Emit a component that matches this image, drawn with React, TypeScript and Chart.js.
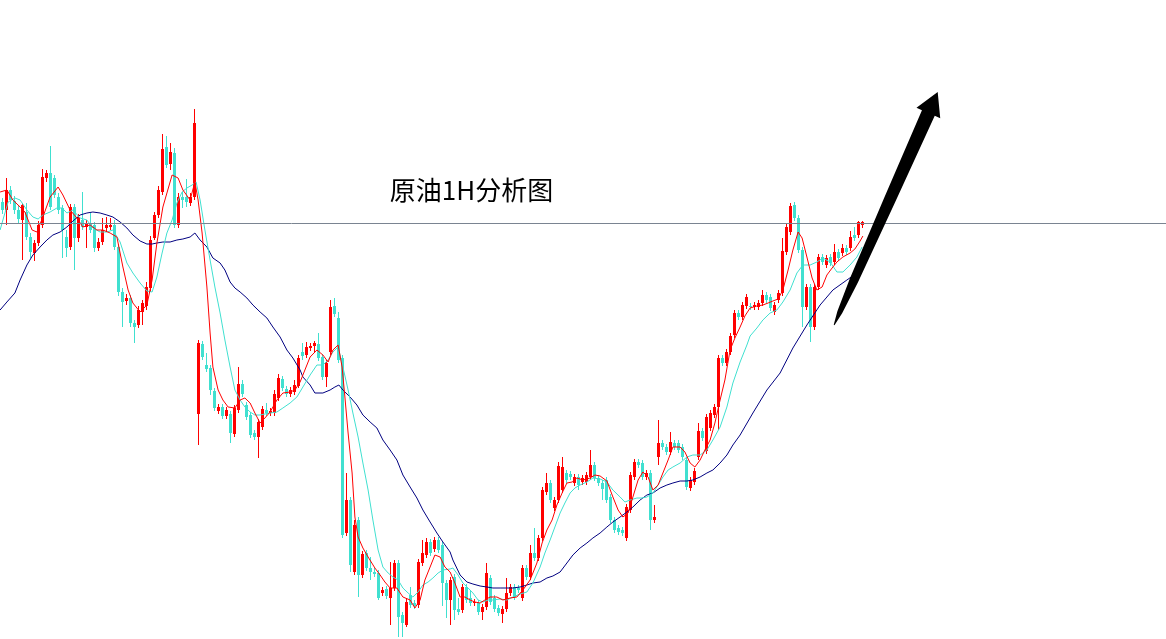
import React, { useEffect, useRef } from "react";
import { Chart, registerables } from "chart.js";

Chart.register(...registerables);

// Hourly crude oil candles (open / high / low / close)
const OPEN = [
  73.98, 73.90, 74.10, 73.99, 73.90, 73.80, 73.88, 73.63, 73.47, 73.57,
  73.75, 74.22, 74.27, 74.22, 74.03, 73.92, 73.63, 73.53, 73.93, 73.62,
  73.80, 73.73, 73.77, 73.75, 73.52, 73.58, 73.72, 73.73, 73.75, 73.53,
  73.08, 72.99, 73.02, 72.77, 72.75, 72.88, 72.94, 73.12, 73.62, 73.85,
  74.08, 74.53, 74.36, 74.47, 73.75, 74.03, 74.03, 73.97, 74.03, 71.86,
  72.56, 72.35, 72.32, 72.09, 71.89, 71.93, 71.84, 71.86, 71.66, 71.90,
  72.16, 71.95, 71.85, 71.67, 71.63, 71.73, 71.90, 71.87, 71.87, 72.02,
  72.21, 72.11, 72.06, 72.08, 72.14, 72.48, 72.45, 72.52, 72.54, 72.56,
  72.43, 72.23, 72.48, 72.94, 72.82, 72.42, 70.67, 71.00, 70.28, 70.80,
  70.25, 70.47, 70.32, 70.28, 70.27, 70.07, 70.11, 70.02, 70.12, 70.37,
  69.85, 69.75, 70.05, 69.97, 69.95, 70.37, 70.45, 70.58, 70.51, 70.60,
  70.55, 70.17, 70.00, 70.23, 69.91, 69.90, 70.13, 70.02, 69.97, 69.97,
  69.88, 69.93, 70.22, 70.02, 69.92, 69.86, 69.91, 70.07, 70.13, 70.12,
  70.02, 70.32, 70.23, 70.47, 70.42, 70.62, 71.08, 71.17, 70.92, 71.00,
  71.10, 71.27, 71.26, 71.17, 71.23, 71.18, 71.18, 71.23, 71.35, 71.22,
  71.17, 71.20, 71.03, 70.80, 70.72, 70.70, 70.62, 70.90, 71.23, 71.38,
  71.37, 71.23, 71.27, 70.80, 71.43, 71.57, 71.53, 71.48, 71.57, 71.57,
  71.53, 71.40, 71.12, 71.18, 71.43, 71.69, 71.49, 71.72, 71.85, 71.93,
  72.42, 72.37, 72.48, 72.65, 72.87, 72.83, 72.94, 72.94, 72.93, 72.93,
  72.97, 73.05, 73.03, 72.88, 73.00, 73.07, 73.48, 73.68, 73.95, 73.82,
  73.50, 72.93, 73.13, 72.73, 73.13, 73.43, 73.35, 73.43, 73.38, 73.48,
  73.47, 73.52, 73.52, 73.65, 73.65, 73.75,
];
const HIGH = [
  74.02, 74.22, 74.14, 74.04, 73.94, 73.97, 73.97, 73.67, 73.60, 73.79,
  74.31, 74.30, 74.54, 74.25, 74.07, 73.95, 73.70, 73.96, 73.96, 73.86,
  74.08, 73.80, 73.87, 73.78, 73.62, 73.82, 73.83, 73.82, 73.80, 73.56,
  73.12, 73.06, 73.05, 72.80, 72.94, 73.00, 73.18, 73.64, 73.88, 74.14,
  74.66, 74.64, 74.57, 74.52, 74.07, 74.08, 74.21, 74.07, 74.91, 72.60,
  72.59, 72.47, 72.35, 72.12, 71.96, 71.96, 71.93, 71.89, 71.95, 72.33,
  72.20, 71.98, 71.88, 71.70, 71.81, 71.94, 71.97, 71.92, 72.10, 72.26,
  72.24, 72.14, 72.13, 72.20, 72.45, 72.57, 72.58, 72.57, 72.59, 72.67,
  72.46, 72.40, 73.00, 73.02, 72.88, 72.45, 71.27, 71.03, 70.80, 70.83,
  70.49, 70.50, 70.43, 70.32, 70.30, 70.13, 70.14, 70.38, 70.40, 70.40,
  69.88, 70.01, 70.13, 70.00, 70.41, 70.60, 70.62, 70.61, 70.63, 70.63,
  70.58, 70.20, 70.23, 70.26, 70.02, 70.16, 70.16, 70.10, 70.01, 70.00,
  69.96, 70.37, 70.25, 70.05, 69.95, 69.94, 70.22, 70.16, 70.16, 70.15,
  70.35, 70.35, 70.55, 70.72, 70.65, 71.13, 71.27, 71.20, 71.03, 71.38,
  71.43, 71.30, 71.29, 71.26, 71.26, 71.25, 71.28, 71.50, 71.38, 71.25,
  71.20, 71.23, 71.06, 70.83, 70.75, 70.73, 70.96, 71.28, 71.41, 71.41,
  71.40, 71.30, 71.30, 70.95, 71.80, 71.60, 71.56, 71.68, 71.60, 71.60,
  71.56, 71.43, 71.23, 71.32, 71.77, 71.72, 71.86, 71.90, 71.96, 72.45,
  72.45, 72.51, 72.67, 72.90, 72.90, 72.98, 73.06, 72.97, 72.98, 73.00,
  73.10, 73.08, 73.06, 72.98, 73.10, 73.62, 73.76, 73.97, 73.98, 73.85,
  73.53, 73.16, 73.16, 73.16, 73.46, 73.46, 73.45, 73.46, 73.56, 73.51,
  73.56, 73.55, 73.69, 73.73, 73.79, 73.79,
];
const LOW = [
  73.86, 73.75, 73.96, 73.86, 73.77, 73.40, 73.60, 73.42, 73.39, 73.54,
  73.72, 74.18, 73.90, 74.02, 73.86, 73.42, 73.43, 73.50, 73.30, 73.58,
  73.70, 73.52, 73.67, 73.48, 73.49, 73.55, 73.69, 73.70, 73.50, 73.04,
  72.73, 72.95, 72.73, 72.57, 72.72, 72.75, 72.90, 73.08, 73.60, 73.82,
  74.05, 74.32, 74.30, 73.72, 73.72, 73.92, 73.93, 73.94, 74.00, 71.55,
  72.40, 72.28, 72.05, 71.89, 71.86, 71.81, 71.81, 71.57, 71.63, 71.87,
  72.03, 71.80, 71.62, 71.60, 71.42, 71.70, 71.84, 71.84, 71.84, 71.99,
  72.09, 72.03, 72.03, 72.05, 72.12, 72.40, 72.42, 72.49, 72.47, 72.39,
  72.20, 72.13, 72.45, 72.83, 72.37, 70.62, 70.64, 70.28, 70.25, 70.03,
  70.22, 70.29, 70.20, 70.23, 70.00, 70.04, 70.01, 69.75, 70.09, 69.63,
  69.63, 69.73, 69.92, 69.91, 69.92, 70.34, 70.42, 70.44, 70.48, 70.47,
  69.94, 69.82, 69.75, 69.80, 69.85, 69.87, 69.97, 69.94, 69.94, 69.85,
  69.80, 69.90, 69.95, 69.88, 69.84, 69.77, 69.88, 70.04, 70.00, 70.07,
  69.99, 70.20, 70.20, 70.39, 70.39, 70.59, 71.05, 70.97, 70.89, 70.97,
  71.07, 71.17, 71.20, 71.14, 71.10, 71.15, 71.15, 71.20, 71.19, 71.14,
  71.00, 70.97, 70.77, 70.67, 70.65, 70.64, 70.59, 70.87, 71.20, 71.32,
  71.20, 71.20, 70.70, 70.77, 71.35, 71.50, 71.45, 71.45, 71.50, 71.47,
  71.40, 71.10, 71.09, 71.15, 71.40, 71.59, 71.46, 71.69, 71.82, 71.70,
  72.34, 72.34, 72.45, 72.62, 72.80, 72.80, 72.91, 72.90, 72.90, 72.90,
  72.94, 72.97, 72.89, 72.85, 72.97, 73.04, 73.45, 73.65, 73.79, 73.47,
  72.73, 72.90, 72.58, 72.70, 73.10, 73.35, 73.32, 73.34, 73.35, 73.39,
  73.44, 73.45, 73.49, 73.59, 73.62, 73.72,
];
const CLOSE = [
  73.90, 74.10, 74.00, 73.90, 73.81, 73.95, 73.63, 73.48, 73.57, 73.75,
  74.23, 74.27, 73.93, 74.05, 73.90, 73.70, 73.52, 73.93, 73.62, 73.83,
  73.73, 73.77, 73.70, 73.52, 73.58, 73.70, 73.75, 73.75, 73.53, 73.08,
  72.98, 73.02, 72.77, 72.73, 72.90, 72.97, 73.13, 73.60, 73.85, 74.10,
  74.51, 74.35, 74.48, 73.75, 74.03, 74.00, 73.98, 74.03, 74.77, 72.57,
  72.43, 72.31, 72.10, 71.92, 71.93, 71.84, 71.90, 71.67, 71.92, 72.16,
  72.06, 71.83, 71.65, 71.63, 71.78, 71.91, 71.87, 71.89, 72.06, 72.22,
  72.12, 72.06, 72.10, 72.15, 72.42, 72.44, 72.53, 72.54, 72.57, 72.42,
  72.23, 72.37, 72.93, 72.86, 72.40, 70.65, 71.00, 70.35, 70.75, 70.25,
  70.46, 70.32, 70.28, 70.26, 70.02, 70.10, 70.04, 70.12, 70.37, 69.83,
  69.77, 69.98, 69.95, 69.94, 70.38, 70.47, 70.58, 70.47, 70.60, 70.50,
  70.17, 70.00, 70.20, 69.90, 69.88, 70.13, 70.00, 69.97, 69.98, 69.88,
  69.93, 70.27, 69.98, 69.91, 69.87, 69.91, 70.07, 70.13, 70.03, 70.10,
  70.32, 70.23, 70.47, 70.42, 70.62, 71.10, 71.17, 71.00, 71.00, 71.34,
  71.33, 71.20, 71.23, 71.23, 71.15, 71.22, 71.25, 71.35, 71.22, 71.17,
  71.11, 71.00, 70.80, 70.70, 70.68, 70.67, 70.93, 71.25, 71.38, 71.35,
  71.23, 71.27, 70.80, 70.83, 71.57, 71.53, 71.48, 71.58, 71.53, 71.50,
  71.43, 71.13, 71.20, 71.29, 71.69, 71.62, 71.83, 71.87, 71.93, 72.42,
  72.37, 72.48, 72.64, 72.87, 72.83, 72.95, 73.03, 72.93, 72.95, 72.97,
  73.05, 73.00, 72.92, 72.95, 73.07, 73.49, 73.73, 73.94, 73.82, 73.50,
  72.93, 73.13, 72.73, 73.13, 73.43, 73.38, 73.42, 73.37, 73.48, 73.42,
  73.52, 73.48, 73.63, 73.62, 73.78, 73.78,
];

// Moving averages: [bar index, price]
const MA_FAST = [
  [-0.6, 74.08], [1.1, 74.1], [2.6, 74.0], [4.4, 73.93], [5.6, 73.88], [7.4, 73.7], [8.6, 73.68], [10.1, 73.83],
  [11.9, 74.03], [13.9, 74.13], [15.1, 74.05], [16.9, 73.9], [18.6, 73.82], [20.1, 73.73], [21.9, 73.75], [23.6, 73.7],
  [25.1, 73.7], [26.9, 73.67], [28.6, 73.63], [30.1, 73.33], [31.4, 73.1], [32.6, 72.97], [34.4, 72.88], [36.1, 72.95],
  [37.4, 73.2], [38.6, 73.57], [40.1, 73.93], [42.4, 74.25], [43.9, 74.22], [45.1, 74.1], [46.9, 74.0], [48.1, 74.18],
  [48.9, 74.0], [49.9, 73.67], [51.1, 73.13], [51.9, 72.67], [52.6, 72.33], [53.9, 72.1], [55.1, 72.0], [56.4, 71.93],
  [58.1, 71.92], [59.4, 72.0], [60.6, 72.02], [61.9, 71.97], [63.1, 71.87], [64.4, 71.77], [65.6, 71.82], [66.9, 71.88],
  [68.6, 72.0], [70.1, 72.07], [71.9, 72.08], [73.1, 72.1], [74.4, 72.18], [76.9, 72.43], [78.6, 72.5], [80.1, 72.45],
  [81.4, 72.38], [82.6, 72.5], [83.9, 72.55], [84.9, 72.33], [85.6, 72.03], [86.4, 71.67], [87.4, 71.27], [88.1, 70.83],
  [88.9, 70.63], [90.1, 70.52], [91.4, 70.43], [93.1, 70.32], [94.4, 70.25], [95.6, 70.18], [96.9, 70.12], [98.6, 70.12],
  [100.1, 70.03], [101.9, 70.0], [103.1, 69.92], [104.4, 70.0], [105.6, 70.2], [106.9, 70.33], [108.1, 70.45], [109.4, 70.43],
  [110.6, 70.33], [111.9, 70.28], [113.1, 70.17], [114.4, 70.03], [115.6, 70.03], [116.9, 70.0], [118.1, 69.98], [119.4, 69.97],
  [120.6, 70.0], [121.9, 70.03], [123.6, 70.03], [125.1, 70.0], [126.9, 70.02], [128.6, 70.03], [130.1, 70.1], [131.9, 70.2],
  [133.6, 70.37], [134.9, 70.57], [136.1, 70.7], [137.4, 70.8], [138.6, 70.95], [139.9, 71.07], [141.1, 71.17], [142.4, 71.18],
  [143.6, 71.22], [145.1, 71.2], [146.9, 71.22], [148.1, 71.25], [149.4, 71.24], [151.1, 71.19], [152.6, 71.03], [153.9, 70.9],
  [155.1, 70.83], [156.4, 70.87], [157.6, 71.03], [158.9, 71.2], [160.1, 71.28], [161.4, 71.23], [162.6, 71.1], [163.9, 71.15],
  [165.1, 71.27], [166.4, 71.4], [167.6, 71.53], [169.4, 71.53], [170.6, 71.48], [171.9, 71.37], [173.1, 71.33], [174.4, 71.4],
  [175.6, 71.5], [176.9, 71.6], [178.1, 71.77], [179.4, 72.0], [180.6, 72.2], [181.9, 72.5], [183.1, 72.62], [184.4, 72.73],
  [185.6, 72.84], [186.9, 72.92], [188.6, 72.94], [190.1, 72.95], [191.4, 72.97], [192.6, 72.99], [193.9, 73.01], [195.1, 73.1],
  [196.4, 73.3], [197.6, 73.5], [198.9, 73.68], [199.9, 73.62], [201.1, 73.43], [202.4, 73.22], [203.6, 73.1], [204.9, 73.13],
  [206.1, 73.25], [207.4, 73.32], [208.6, 73.38], [210.1, 73.43], [211.9, 73.47], [213.1, 73.51], [214.4, 73.59], [215.1, 73.64],
];
const MA_MID = [
  [-0.6, 73.7], [0.1, 73.8], [1.4, 73.98], [3.1, 74.02], [4.4, 74.0], [6.1, 73.9], [7.6, 73.83], [8.9, 73.81],
  [10.1, 73.85], [11.9, 73.88], [13.6, 73.92], [14.9, 73.92], [16.1, 73.87], [17.6, 73.9], [19.4, 73.82], [21.1, 73.8],
  [22.6, 73.72], [24.4, 73.68], [26.1, 73.68], [27.6, 73.7], [29.4, 73.58], [31.1, 73.37], [32.6, 73.27], [34.4, 73.17],
  [36.1, 73.09], [37.4, 73.08], [38.6, 73.23], [39.9, 73.47], [41.1, 73.67], [42.4, 73.8], [43.6, 73.97], [44.9, 74.08],
  [46.1, 74.12], [47.4, 74.15], [48.4, 74.18], [49.4, 74.0], [50.6, 73.7], [51.9, 73.4], [53.1, 73.13], [54.4, 72.87],
  [55.6, 72.6], [56.9, 72.33], [58.1, 72.1], [59.4, 72.0], [60.6, 71.93], [61.9, 71.88], [63.1, 71.85], [64.4, 71.85],
  [65.6, 71.86], [66.9, 71.87], [68.6, 71.88], [70.1, 71.92], [71.9, 71.97], [73.6, 72.03], [75.1, 72.13], [76.9, 72.25],
  [78.6, 72.35], [80.1, 72.35], [81.4, 72.4], [82.6, 72.48], [83.9, 72.53], [85.1, 72.33], [86.4, 72.1], [87.6, 71.87],
  [88.9, 71.63], [90.1, 71.37], [91.4, 71.1], [92.6, 70.8], [93.9, 70.5], [95.1, 70.33], [96.4, 70.27], [97.6, 70.23],
  [98.9, 70.2], [100.1, 70.12], [101.4, 70.07], [102.6, 70.03], [103.9, 70.08], [105.1, 70.15], [106.4, 70.18], [107.6, 70.22],
  [108.9, 70.27], [110.1, 70.3], [111.9, 70.31], [112.6, 70.32], [113.9, 70.25], [115.1, 70.17], [116.4, 70.12], [117.6, 70.07],
  [118.9, 70.0], [120.1, 69.98], [121.4, 70.0], [122.6, 70.0], [124.4, 70.01], [126.1, 70.0], [127.6, 70.03], [129.4, 70.06],
  [131.1, 70.08], [132.6, 70.17], [134.4, 70.33], [135.6, 70.47], [136.9, 70.6], [138.1, 70.73], [139.4, 70.87], [140.6, 70.97],
  [141.9, 71.07], [143.1, 71.12], [144.4, 71.15], [146.1, 71.18], [147.6, 71.22], [149.4, 71.21], [151.1, 71.18], [152.6, 71.1],
  [154.4, 71.03], [155.6, 70.98], [156.9, 71.0], [158.6, 71.02], [159.9, 71.02], [161.1, 71.03], [162.6, 71.07], [163.9, 71.15],
  [165.1, 71.23], [166.4, 71.3], [167.6, 71.33], [169.4, 71.37], [171.1, 71.43], [172.6, 71.45], [174.4, 71.45], [176.1, 71.5],
  [177.6, 71.6], [179.4, 71.73], [181.1, 71.93], [182.6, 72.17], [184.4, 72.38], [186.1, 72.55], [186.9, 72.64], [188.6, 72.72],
  [190.1, 72.8], [191.9, 72.87], [193.6, 72.9], [195.1, 72.98], [196.9, 73.1], [198.6, 73.27], [200.1, 73.35], [201.9, 73.35],
  [203.6, 73.38], [205.1, 73.42], [206.9, 73.38], [208.6, 73.28], [210.1, 73.28], [211.9, 73.35], [213.6, 73.43], [214.9, 73.53],
];
const MA_SLOW = [
  [-0.6, 72.9], [1.1, 72.98], [3.1, 73.07], [4.4, 73.2], [6.1, 73.35], [7.6, 73.45], [9.4, 73.53], [11.1, 73.6],
  [12.6, 73.65], [14.4, 73.68], [16.1, 73.73], [17.6, 73.79], [19.4, 73.85], [21.1, 73.87], [22.6, 73.88], [24.4, 73.87],
  [26.1, 73.85], [27.6, 73.83], [29.4, 73.78], [31.1, 73.72], [32.6, 73.65], [34.4, 73.59], [36.1, 73.56], [37.4, 73.56],
  [38.6, 73.57], [40.1, 73.58], [41.9, 73.58], [43.6, 73.6], [45.1, 73.61], [46.9, 73.63], [48.1, 73.67], [49.4, 73.6],
  [51.1, 73.53], [52.6, 73.42], [54.4, 73.37], [55.6, 73.3], [56.9, 73.18], [58.1, 73.12], [59.4, 73.08], [61.1, 73.02],
  [62.6, 72.95], [64.4, 72.88], [66.1, 72.82], [67.6, 72.73], [69.4, 72.63], [71.1, 72.5], [72.6, 72.42], [74.4, 72.3],
  [75.1, 72.23], [76.9, 72.15], [78.1, 72.07], [80.1, 72.07], [81.9, 72.1], [83.1, 72.13], [84.1, 72.15], [85.1, 72.1],
  [86.9, 72.03], [88.6, 71.95], [90.1, 71.85], [91.9, 71.78], [93.6, 71.72], [95.1, 71.6], [96.9, 71.5], [98.6, 71.4],
  [100.1, 71.25], [101.9, 71.13], [103.6, 71.02], [105.1, 70.9], [106.9, 70.78], [108.6, 70.67], [110.1, 70.58], [111.9, 70.48],
  [112.6, 70.4], [114.4, 70.25], [116.1, 70.18], [117.6, 70.16], [119.4, 70.14], [121.1, 70.13], [122.6, 70.12], [124.4, 70.12],
  [126.1, 70.12], [127.6, 70.12], [129.4, 70.13], [131.1, 70.15], [132.6, 70.17], [134.4, 70.18], [136.1, 70.22], [137.6, 70.24],
  [139.4, 70.28], [141.1, 70.37], [142.6, 70.45], [144.4, 70.52], [146.1, 70.57], [147.6, 70.62], [149.4, 70.67], [151.1, 70.73],
  [152.6, 70.78], [154.4, 70.83], [156.1, 70.88], [157.6, 70.93], [159.4, 71.0], [161.1, 71.05], [162.6, 71.07], [164.4, 71.12],
  [166.1, 71.15], [167.6, 71.17], [169.4, 71.19], [171.1, 71.19], [172.6, 71.2], [174.4, 71.23], [176.1, 71.27], [177.6, 71.3],
  [179.4, 71.37], [181.1, 71.45], [182.6, 71.55], [184.4, 71.65], [187.6, 71.87], [191.1, 72.1], [194.4, 72.27], [197.6, 72.52],
  [201.1, 72.75], [204.4, 72.95], [207.6, 73.1], [211.1, 73.2], [213.6, 73.27], [215.1, 73.31],
];

const LEVEL = 73.77;
const TITLE = "原油1H分析图";
const TITLE_AT = [117.25, 74.1];
const ARROW_FROM = [207.9, 72.75];
const ARROW_TO = [233.8, 75.08];

const X_MIN = -0.625;
const X_MAX = 290.875;
const Y_MIN = 69.61;
const Y_MAX = 76.0;

const UP = "#ff0000";
const DOWN = "#40e0d0";

const overlay = {
  id: "overlay",
  afterDatasetsDraw(chart: any) {
    const { ctx, scales } = chart;
    const xs = scales.x;
    const ys = scales.y;
    ctx.save();
    // horizontal level line
    const ly = Math.round(ys.getPixelForValue(LEVEL)) + 0.5;
    ctx.strokeStyle = "#7a8491";
    ctx.lineWidth = 1;
    ctx.beginPath();
    ctx.moveTo(0, ly);
    ctx.lineTo(chart.width, ly);
    ctx.stroke();

    // title
    ctx.fillStyle = "#000";
    ctx.font = '26px "Noto Sans CJK SC", "Noto Sans", sans-serif';
    ctx.textAlign = "center";
    ctx.textBaseline = "middle";
    ctx.fillText(TITLE, xs.getPixelForValue(TITLE_AT[0]), ys.getPixelForValue(TITLE_AT[1]));

    // arrow
    const x0 = xs.getPixelForValue(ARROW_FROM[0]);
    const y0 = ys.getPixelForValue(ARROW_FROM[1]);
    const x1 = xs.getPixelForValue(ARROW_TO[0]);
    const y1 = ys.getPixelForValue(ARROW_TO[1]);
    const dx = x1 - x0;
    const dy = y1 - y0;
    const len = Math.hypot(dx, dy);
    const ux = dx / len;
    const uy = dy / len;
    const nx = -uy;
    const ny = ux;
    const headLen = 23;
    const headHalf = 13;
    const shaft = len - headLen;
    const profile = [
      [0, 0.4],
      [0.06, 2.6],
      [0.21, 4.5],
      [0.59, 5.9],
      [1, 7],
    ];
    const pt = (t: number, w: number) => [x0 + ux * shaft * t + nx * w, y0 + uy * shaft * t + ny * w];
    ctx.fillStyle = "#000";
    ctx.beginPath();
    const first = pt(0, profile[0][1]);
    ctx.moveTo(first[0], first[1]);
    for (const [t, w] of profile) {
      const p = pt(t, w);
      ctx.lineTo(p[0], p[1]);
    }
    const hb1 = pt(1, headHalf);
    ctx.lineTo(hb1[0], hb1[1]);
    ctx.lineTo(x1, y1);
    const hb2 = pt(1, -headHalf);
    ctx.lineTo(hb2[0], hb2[1]);
    for (let k = profile.length - 1; k >= 0; k--) {
      const p = pt(profile[k][0], -profile[k][1]);
      ctx.lineTo(p[0], p[1]);
    }
    ctx.closePath();
    ctx.fill();
    ctx.restore();
  },
};

export default function App() {
  const ref = useRef<HTMLCanvasElement | null>(null);

  useEffect(() => {
    if (!ref.current) return;
    const colors = CLOSE.map((c, i) => (c >= OPEN[i] ? UP : DOWN));
    const line = (pts: number[][], color: string) => ({
      type: "line" as const,
      data: pts.map(([x, y]) => ({ x, y })),
      borderColor: color,
      borderWidth: 1,
      pointRadius: 0,
      tension: 0,
      fill: false,
      order: 0,
    });
    const chart = new Chart(ref.current, {
      type: "bar",
      data: {
        datasets: [
          line(MA_FAST, UP) as any,
          line(MA_MID, DOWN) as any,
          line(MA_SLOW, "#000080") as any,
          {
            type: "bar",
            data: CLOSE.map((c, i) => ({ x: i, y: [OPEN[i], c] })) as any,
            backgroundColor: colors,
            borderWidth: 0,
            barThickness: 3,
            minBarLength: 1,
            grouped: false,
            inflateAmount: 0,
            order: 1,
          } as any,
          {
            type: "bar",
            data: CLOSE.map((_, i) => ({ x: i, y: [LOW[i], HIGH[i]] })) as any,
            backgroundColor: colors,
            borderWidth: 0,
            barThickness: 1,
            grouped: false,
            inflateAmount: 0,
            order: 2,
          } as any,
        ],
      },
      options: {
        animation: false,
        responsive: false,
        events: [],
        layout: { padding: 0 },
        scales: {
          x: { type: "linear", min: X_MIN, max: X_MAX, display: false, offset: false },
          y: { type: "linear", min: Y_MIN, max: Y_MAX, display: false },
        },
        plugins: { legend: { display: false }, tooltip: { enabled: false }, title: { display: false } },
      } as any,
      plugins: [overlay],
    });
    return () => chart.destroy();
  }, []);

  return (
    <div style={{ position: "fixed", left: 0, top: 0, width: 1166, height: 639, background: "#fff" }}>
      <canvas ref={ref} width={1166} height={639} style={{ display: "block" }} />
    </div>
  );
}
